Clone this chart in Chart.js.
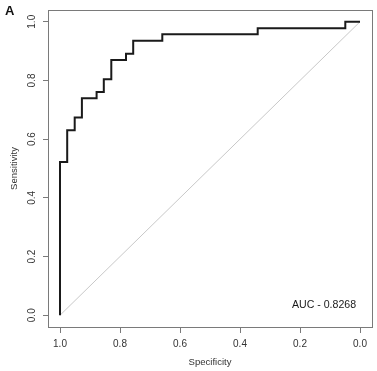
<!DOCTYPE html>
<html>
<head>
<meta charset="utf-8">
<script src="https://cdn.jsdelivr.net/npm/chart.js@4"></script>
<style>
  body { margin: 0; background: #fff; }
  canvas { display: block; }
</style>
</head>
<body>
<canvas id="roc" width="377" height="371"></canvas>
<script>
// ROC curve, one point per threshold
const specificity = [1.0, 0.976, 0.951, 0.927, 0.878, 0.854, 0.829, 0.780, 0.756, 0.659, 0.341, 0.049, 0.0];
const sensitivity = [0.0, 0.522, 0.630, 0.674, 0.739, 0.761, 0.804, 0.870, 0.891, 0.935, 0.957, 0.978, 1.0];
const chanceSpec = [1.0, 0.0];
const chanceSens = [0.0, 1.0];
const tickValues = [0.0, 0.2, 0.4, 0.6, 0.8, 1.0];
const aucLabel = "AUC - 0.8268";
const panelLabel = "A";

const font = "'Liberation Sans', Arial, Helvetica, sans-serif";

// box around plot + panel letter + AUC text
const extras = {
  id: 'extras',
  afterDraw(chart) {
    const ctx = chart.ctx;
    const a = chart.chartArea;
    ctx.save();
    ctx.strokeStyle = '#7a7a7a';
    ctx.lineWidth = 1;
    ctx.strokeRect(Math.round(a.left) + 0.5, Math.round(a.top) + 0.5,
                   Math.round(a.right - a.left), Math.round(a.bottom - a.top));
    ctx.fillStyle = '#111';
    ctx.font = "bold 13px " + font;
    ctx.textBaseline = 'middle';
    ctx.textAlign = 'left';
    ctx.fillText(panelLabel, 5, 11);
    ctx.font = "10.6px " + font;
    ctx.textAlign = 'right';
    ctx.fillStyle = '#1a1a1a';
    ctx.fillText(aucLabel, chart.scales.x.getPixelForValue(0.013), chart.scales.y.getPixelForValue(0.035));
    ctx.restore();
  }
};

function fixedTicks(scale) {
  scale.ticks = tickValues.map(v => ({ value: v }));
}

new Chart(document.getElementById('roc'), {
  type: 'line',
  data: {
    datasets: [
      {
        data: specificity.map((s, i) => ({ x: s, y: sensitivity[i] })),
        borderColor: '#1a1a1a',
        borderWidth: 2,
        stepped: 'after',
        pointRadius: 0,
        fill: false
      },
      {
        data: chanceSpec.map((s, i) => ({ x: s, y: chanceSens[i] })),
        borderColor: '#c8c8c8',
        borderWidth: 1,
        pointRadius: 0,
        fill: false
      }
    ]
  },
  options: {
    responsive: false,
    animation: false,
    devicePixelRatio: 1,
    layout: { padding: { top: 5, right: 5, left: 0, bottom: 0 } },
    plugins: { legend: { display: false }, tooltip: { enabled: false } },
    scales: {
      x: {
        type: 'linear',
        reverse: true,
        min: -0.04,
        max: 1.04,
        afterBuildTicks: fixedTicks,
        afterFit: (s) => { s.height = 44; },
        grid: { drawOnChartArea: false, drawTicks: true, tickLength: 6, color: '#7a7a7a' },
        border: { display: false },
        ticks: { padding: 5, color: '#333', font: { family: font, size: 10 }, callback: (v) => v.toFixed(1) },
        title: { display: true, text: 'Specificity', color: '#333', font: { family: font, size: 9.5 }, padding: { top: 0, bottom: 3 } }
      },
      y: {
        type: 'linear',
        min: -0.04,
        max: 1.04,
        afterBuildTicks: fixedTicks,
        afterFit: (s) => { s.width = 48; },
        grid: { drawOnChartArea: false, drawTicks: true, tickLength: 5, color: '#7a7a7a' },
        border: { display: false },
        ticks: { padding: 4, minRotation: 90, maxRotation: 90, crossAlign: 'center', color: '#333', font: { family: font, size: 10 }, callback: (v) => v.toFixed(1) },
        title: { display: true, text: 'Sensitivity', color: '#333', font: { family: font, size: 9.5 }, padding: { top: 9, bottom: 0 } }
      }
    }
  },
  plugins: [extras]
});
</script>
</body>
</html>
